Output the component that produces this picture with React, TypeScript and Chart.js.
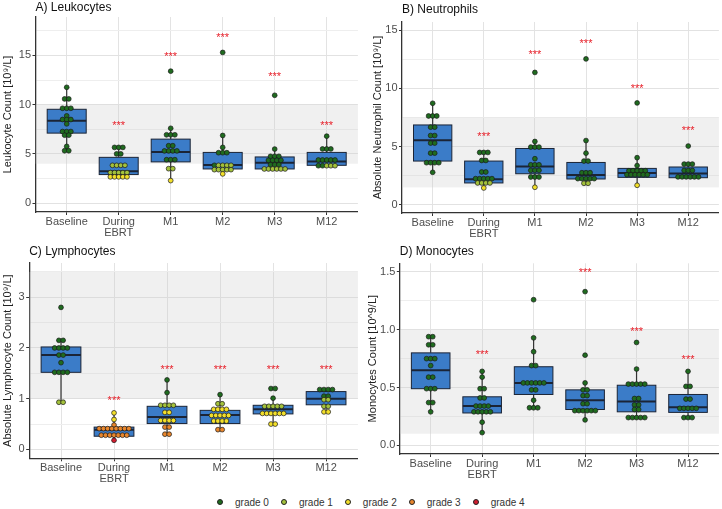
import React, { useEffect, useRef } from 'react';
import { Chart, registerables } from 'chart.js';

Chart.register(...registerables);
Chart.defaults.font.family = '"Liberation Sans", Arial, Helvetica, sans-serif';

// ---------------- DATA ----------------
const categories: (string | string[])[] = ['Baseline', ['During', 'EBRT'], 'M1', 'M2', 'M3', 'M12'];
const gradeLabels = ['grade 0', 'grade 1', 'grade 2', 'grade 3', 'grade 4'];
const gradeColors = ['#1f6b1f', '#a3c13b', '#f2df2a', '#e8862c', '#cf1d2e'];

// dot rows per category: [value, count, grade]
const leukoDots: number[][][] = [
  [[11.76, 1, 0], [10.58, 2, 0], [9.63, 3, 0], [8.86, 1, 0], [8.49, 3, 0], [8.05, 1, 0], [7.27, 3, 0], [6.9, 2, 0], [5.76, 1, 0], [5.32, 2, 0]],
  [[5.66, 3, 0], [5.0, 2, 0], [3.84, 4, 1], [3.1, 5, 1], [2.67, 5, 2]],
  [[13.4, 1, 0], [7.6, 1, 0], [6.94, 3, 0], [5.83, 2, 0], [5.3, 4, 0], [4.41, 3, 0], [3.5, 2, 1], [2.29, 1, 2]],
  [[15.3, 1, 0], [6.87, 1, 0], [5.66, 1, 0], [5.12, 3, 0], [3.84, 1, 0], [3.84, 4, 1], [3.4, 5, 1], [2.97, 1, 2]],
  [[10.95, 1, 0], [5.49, 1, 0], [4.75, 3, 0], [4.35, 4, 0], [3.9, 3, 0], [3.47, 6, 1]],
  [[6.8, 1, 0], [5.5, 3, 0], [4.38, 5, 0], [3.8, 2, 0], [3.8, 3, 1]],
];
const leukoQ1 = [7.11, 2.9, 4.19, 3.47, 3.47, 3.84];
const leukoMedian = [8.37, 3.23, 5.2, 3.88, 4.1, 4.24];
const leukoQ3 = [9.53, 4.65, 6.5, 5.15, 4.69, 5.15];
const leukoLow = [5.32, 2.67, 2.29, 2.97, 3.47, 3.84];
const leukoHigh = [11.76, 5.66, 7.6, 6.87, 5.49, 6.8];
const leukoStars = [null, 8.18, 15.15, 17.17, 13.17, 8.18];
const leukoRange = [4, 10];

const neutroDots: number[][][] = [
  [[8.72, 1, 0], [7.63, 3, 0], [6.67, 2, 0], [5.95, 2, 0], [5.3, 2, 0], [4.44, 2, 0], [3.62, 4, 0], [2.79, 1, 0]],
  [[4.5, 3, 0], [3.81, 2, 0], [2.82, 2, 0], [2.25, 5, 0], [1.88, 4, 1], [1.45, 1, 2]],
  [[11.37, 1, 0], [5.44, 1, 0], [4.96, 3, 0], [3.96, 1, 0], [3.44, 3, 0], [2.96, 3, 0], [2.39, 3, 0], [1.51, 1, 2]],
  [[12.53, 1, 0], [5.52, 1, 0], [4.44, 1, 0], [3.76, 2, 0], [2.76, 3, 0], [2.25, 5, 0], [1.85, 2, 1]],
  [[8.75, 1, 0], [4.05, 1, 0], [3.37, 1, 0], [2.93, 5, 0], [2.59, 6, 0], [1.68, 1, 2]],
  [[5.05, 1, 0], [3.5, 3, 0], [2.95, 3, 0], [2.4, 6, 0]],
];
const neutroQ1 = [3.76, 1.88, 2.67, 2.22, 2.36, 2.33];
const neutroMedian = [5.55, 2.19, 3.3, 2.56, 2.73, 2.7];
const neutroQ3 = [6.86, 3.76, 4.84, 3.64, 3.13, 3.25];
const neutroLow = [2.79, 1.45, 1.51, 1.85, 1.68, 2.33];
const neutroHigh = [8.72, 4.5, 5.44, 5.52, 4.05, 3.5];
const neutroStars = [null, 6.15, 13.13, 14.13, 10.22, 6.63];
const neutroRange = [1.5, 7.5];

const lymphoDots: number[][][] = [
  [[2.8, 1, 0], [2.15, 2, 0], [2.0, 4, 0], [1.86, 2, 0], [1.71, 1, 0], [1.52, 4, 0], [0.93, 2, 1]],
  [[0.72, 1, 2], [0.59, 1, 2], [0.48, 1, 3], [0.41, 8, 3], [0.28, 7, 3], [0.18, 1, 4]],
  [[1.37, 1, 0], [1.12, 1, 0], [0.87, 4, 1], [0.73, 2, 2], [0.57, 4, 2], [0.44, 2, 3], [0.3, 2, 3]],
  [[1.08, 1, 0], [0.9, 2, 1], [0.79, 4, 2], [0.67, 5, 2], [0.56, 4, 2], [0.39, 2, 3]],
  [[1.2, 2, 0], [1.01, 1, 0], [0.85, 5, 1], [0.71, 6, 2], [0.5, 2, 2]],
  [[1.18, 4, 0], [1.05, 2, 0], [0.98, 2, 1], [0.85, 2, 1], [0.74, 2, 2]],
];
const lymphoQ1 = [1.52, 0.26, 0.51, 0.51, 0.7, 0.88];
const lymphoMedian = [1.86, 0.39, 0.64, 0.68, 0.79, 1.0];
const lymphoQ3 = [2.02, 0.44, 0.85, 0.77, 0.87, 1.14];
const lymphoLow = [0.93, 0.18, 0.3, 0.39, 0.5, 0.74];
const lymphoHigh = [2.15, 0.72, 1.37, 1.08, 1.01, 1.18];
const lymphoStars = [null, 1.03, 1.64, 1.64, 1.64, 1.64];
const lymphoRange = [1.0, 3.5];

const monoDots: number[][][] = [
  [[0.94, 2, 0], [0.87, 2, 0], [0.75, 3, 0], [0.69, 1, 0], [0.59, 2, 0], [0.49, 3, 0], [0.37, 2, 0], [0.29, 1, 0]],
  [[0.64, 1, 0], [0.59, 1, 0], [0.49, 2, 0], [0.41, 2, 0], [0.34, 4, 0], [0.29, 5, 0], [0.2, 1, 0], [0.11, 1, 0]],
  [[1.26, 1, 0], [0.93, 1, 0], [0.81, 1, 0], [0.69, 2, 0], [0.54, 6, 0], [0.48, 2, 0], [0.39, 1, 0], [0.325, 3, 0]],
  [[1.33, 1, 0], [0.78, 1, 0], [0.54, 1, 0], [0.48, 2, 0], [0.43, 2, 0], [0.36, 2, 0], [0.3, 6, 0], [0.22, 1, 0]],
  [[0.89, 1, 0], [0.66, 1, 0], [0.53, 5, 0], [0.405, 2, 0], [0.35, 2, 0], [0.31, 2, 0], [0.24, 5, 0]],
  [[0.64, 1, 0], [0.51, 2, 0], [0.4, 2, 0], [0.32, 5, 0], [0.24, 3, 0]],
];
const monoQ1 = [0.49, 0.28, 0.44, 0.31, 0.29, 0.285];
const monoMedian = [0.65, 0.34, 0.54, 0.39, 0.38, 0.33];
const monoQ3 = [0.8, 0.42, 0.68, 0.48, 0.52, 0.44];
const monoLow = [0.29, 0.11, 0.325, 0.22, 0.24, 0.24];
const monoHigh = [0.94, 0.64, 0.93, 0.54, 0.66, 0.64];
const monoStars = [null, 0.81, null, 1.52, 1.01, 0.77];
const monoRange = [0.1, 1.0];

// ---------------- LAYOUT / STYLE ----------------
const DOT_STEP = 0.08;
const BOX_HALF = 0.375;

type PanelSpec = {
  title: string; yTitle: string;
  dots: number[][][]; q1: number[]; med: number[]; q3: number[]; lo: number[]; hi: number[];
  stars: (number | null)[]; band: number[];
  yMin: number; yMax: number; minorStep: number; majorStep: number; decimals: number;
  left: number; top: number; w: number; h: number;
  yAxisW: number; xAxisH: number; padRight: number; titlePad: { top: number; bottom: number }; yTitlePad: number;
};

const panels: PanelSpec[] = [
  {
    title: 'A) Leukocytes', yTitle: 'Leukocyte Count [10\u2079/L]',
    dots: leukoDots, q1: leukoQ1, med: leukoMedian, q3: leukoQ3, lo: leukoLow, hi: leukoHigh, stars: leukoStars, band: leukoRange,
    yMin: -0.9, yMax: 18.9, minorStep: 2.5, majorStep: 5, decimals: 0,
    left: 0, top: 0, w: 361, h: 240, yAxisW: 35.5, xAxisH: 28, padRight: 3, titlePad: { top: 0, bottom: 2.6 }, yTitlePad: 1.4,
  },
  {
    title: 'B) Neutrophils', yTitle: 'Absolute Neutrophil Count [10\u2079/L]',
    dots: neutroDots, q1: neutroQ1, med: neutroMedian, q3: neutroQ3, lo: neutroLow, hi: neutroHigh, stars: neutroStars, band: neutroRange,
    yMin: -0.7, yMax: 15.7, minorStep: 2.5, majorStep: 5, decimals: 0,
    left: 361, top: 0, w: 361, h: 240, yAxisW: 41, xAxisH: 27, padRight: 1, titlePad: { top: 2.3, bottom: 5.3 }, yTitlePad: 10.1,
  },
  {
    title: 'C) Lymphocytes', yTitle: 'Absolute Lymphocyte Count [10\u2079/L]',
    dots: lymphoDots, q1: lymphoQ1, med: lymphoMedian, q3: lymphoQ3, lo: lymphoLow, hi: lymphoHigh, stars: lymphoStars, band: lymphoRange,
    yMin: -0.175, yMax: 3.675, minorStep: 0.5, majorStep: 1, decimals: 0,
    left: 0, top: 240, w: 361, h: 250, yAxisW: 29.2, xAxisH: 31.7, padRight: 2.4, titlePad: { top: 4.5, bottom: 4.1 }, yTitlePad: 1.7,
  },
  {
    title: 'D) Monocytes', yTitle: 'Monocytes Count [10^9/L]',
    dots: monoDots, q1: monoQ1, med: monoMedian, q3: monoQ3, lo: monoLow, hi: monoHigh, stars: monoStars, band: monoRange,
    yMin: -0.075, yMax: 1.575, minorStep: 0.25, majorStep: 0.5, decimals: 1,
    left: 361, top: 240, w: 361, h: 250, yAxisW: 38.8, xAxisH: 36, padRight: 3, titlePad: { top: 4.5, bottom: 4.4 }, yTitlePad: 5.1,
  },
];

function buildPoints(rows: number[][][]) {
  const pts: { x: number; y: number; g: number }[] = [];
  rows.forEach((catRows, ci) => {
    const groups = new Map<number, number[]>();
    catRows.forEach(([v, n, g]) => {
      if (!groups.has(v)) groups.set(v, []);
      for (let i = 0; i < n; i++) groups.get(v)!.push(g);
    });
    groups.forEach((grades, v) => {
      const n = grades.length;
      grades.forEach((g, i) => pts.push({ x: ci + (i - (n - 1) / 2) * DOT_STEP, y: v, g }));
    });
  });
  return pts;
}

function isMajor(v: number, major: number) {
  const r = v / major;
  return Math.abs(r - Math.round(r)) < 1e-6;
}

function makeConfig(s: PanelSpec): any {
  const pts = buildPoints(s.dots);
  const boxPlugin = {
    id: 'boxes',
    beforeDatasetsDraw(chart: any) {
      const { ctx, chartArea, scales } = chart;
      const x = scales.x, y = scales.y;
      ctx.save();
      const b1 = y.getPixelForValue(s.band[1]);
      const b0 = y.getPixelForValue(s.band[0]);
      ctx.fillStyle = 'rgba(205,205,205,0.3)';
      ctx.fillRect(chartArea.left, b1, chartArea.right - chartArea.left, b0 - b1);
      for (let i = 0; i < s.q1.length; i++) {
        const xc = x.getPixelForValue(i);
        const xl = x.getPixelForValue(i - BOX_HALF);
        const xr = x.getPixelForValue(i + BOX_HALF);
        const yq1 = y.getPixelForValue(s.q1[i]);
        const yq3 = y.getPixelForValue(s.q3[i]);
        const ym = y.getPixelForValue(s.med[i]);
        const ylo = y.getPixelForValue(s.lo[i]);
        const yhi = y.getPixelForValue(s.hi[i]);
        ctx.strokeStyle = '#333333';
        ctx.lineWidth = 1.2;
        ctx.beginPath();
        ctx.moveTo(xc, yq1); ctx.lineTo(xc, ylo);
        ctx.moveTo(xc, yq3); ctx.lineTo(xc, yhi);
        ctx.stroke();
        ctx.fillStyle = '#3b7cc8';
        ctx.fillRect(xl, yq3, xr - xl, yq1 - yq3);
        ctx.strokeStyle = '#1b2436';
        ctx.lineWidth = 1;
        ctx.strokeRect(xl, yq3, xr - xl, yq1 - yq3);
        ctx.lineWidth = 2;
        ctx.beginPath();
        ctx.moveTo(xl, ym); ctx.lineTo(xr, ym);
        ctx.stroke();
      }
      ctx.restore();
    },
    afterDatasetsDraw(chart: any) {
      const { ctx, scales } = chart;
      ctx.save();
      ctx.fillStyle = '#e8202a';
      ctx.font = '11px "Liberation Sans", Arial, sans-serif';
      ctx.textAlign = 'center';
      ctx.textBaseline = 'alphabetic';
      s.stars.forEach((v, i) => {
        if (v == null) return;
        ctx.fillText('***', scales.x.getPixelForValue(i), scales.y.getPixelForValue(v) + 6.5);
      });
      ctx.restore();
    },
  };

  return {
    type: 'scatter',
    data: {
      datasets: [
        {
          data: pts.map((p) => ({ x: p.x, y: p.y })),
          pointBackgroundColor: pts.map((p) => gradeColors[p.g]),
          pointBorderColor: '#1a1a1a',
          pointBorderWidth: 0.7,
          pointRadius: 2.4,
          pointHoverRadius: 2.4,
        },
      ],
    },
    options: {
      responsive: false,
      animation: false,
      events: [],
      layout: { padding: { left: 0, right: s.padRight, top: 0, bottom: 0 } },
      plugins: {
        legend: { display: false },
        tooltip: { enabled: false },
        title: {
          display: true, text: s.title, align: 'start', fullSize: false,
          color: '#111111', font: { size: 12, weight: 'normal', lineHeight: 1.2 },
          padding: s.titlePad,
        },
      },
      scales: {
        x: {
          type: 'linear', min: -0.6, max: 5.6,
          afterFit: (sc: any) => { sc.height = s.xAxisH; },
          ticks: {
            stepSize: 1, includeBounds: false, autoSkip: false, maxRotation: 0, minRotation: 0,
            padding: 1.5, color: '#4d4d4d', font: { size: 11, lineHeight: 1.0 },
            callback: (v: number) => {
              const idx = Math.round(v);
              return Math.abs(v - idx) < 1e-6 ? categories[idx] : '';
            },
          },
          grid: { color: '#e3e3e3', lineWidth: 1, drawTicks: true, tickLength: 3, tickColor: '#333333', tickWidth: 1 },
          border: { display: true, color: '#333333', width: 1.3 },
        },
        y: {
          type: 'linear', min: s.yMin, max: s.yMax,
          afterFit: (sc: any) => { sc.width = s.yAxisW; },
          ticks: {
            stepSize: s.minorStep, includeBounds: false, autoSkip: false,
            padding: 1.5, color: '#4d4d4d', font: { size: 11 },
            callback: (v: number) => (isMajor(v, s.majorStep) ? Number(v).toFixed(s.decimals) : ''),
          },
          grid: {
            drawTicks: true,
            tickLength: 3,
            tickWidth: 1,
            tickColor: (ctx: any) => (ctx.tick && isMajor(ctx.tick.value, s.majorStep) ? '#333333' : 'rgba(0,0,0,0)'),
            color: (ctx: any) => (ctx.tick && isMajor(ctx.tick.value, s.majorStep) ? '#e2e2e2' : '#eeeeee'),
            lineWidth: 1,
          },
          border: { display: true, color: '#333333', width: 1.3 },
          title: {
            display: true, text: s.yTitle, color: '#222222',
            font: { size: 11, lineHeight: 1.2 }, padding: { top: s.yTitlePad, bottom: 0 },
          },
        },
      },
    },
    plugins: [boxPlugin],
  };
}

function Panel({ spec }: { spec: PanelSpec }) {
  const ref = useRef<HTMLCanvasElement>(null);
  useEffect(() => {
    const chart = new Chart(ref.current as HTMLCanvasElement, makeConfig(spec));
    return () => chart.destroy();
  }, [spec]);
  return (
    <div style={{ position: 'absolute', left: spec.left, top: spec.top, width: spec.w, height: spec.h }}>
      <canvas ref={ref} width={spec.w} height={spec.h} style={{ width: spec.w, height: spec.h, display: 'block' }} />
    </div>
  );
}

function Legend() {
  return (
    <div
      style={{
        position: 'absolute', left: 217, top: 495, height: 14, display: 'flex', alignItems: 'center',
        fontFamily: '"Liberation Sans", Arial, sans-serif', fontSize: 10, color: '#333333',
      }}
    >
      {gradeLabels.map((lab, i) => (
        <div key={lab} style={{ display: 'flex', alignItems: 'center' }}>
          <span
            style={{
              display: 'inline-block', boxSizing: 'border-box', width: 6, height: 6, borderRadius: '50%',
              background: gradeColors[i], border: '0.7px solid #222',
            }}
          />
          <span style={{ marginLeft: 12, marginRight: 12, whiteSpace: 'nowrap' }}>{lab}</span>
        </div>
      ))}
    </div>
  );
}

export default function App() {
  return (
    <div style={{ position: 'absolute', left: 0, top: 0, width: 722, height: 509, background: '#ffffff', overflow: 'hidden' }}>
      {panels.map((p) => (
        <Panel key={p.title} spec={p} />
      ))}
      <Legend />
    </div>
  );
}
